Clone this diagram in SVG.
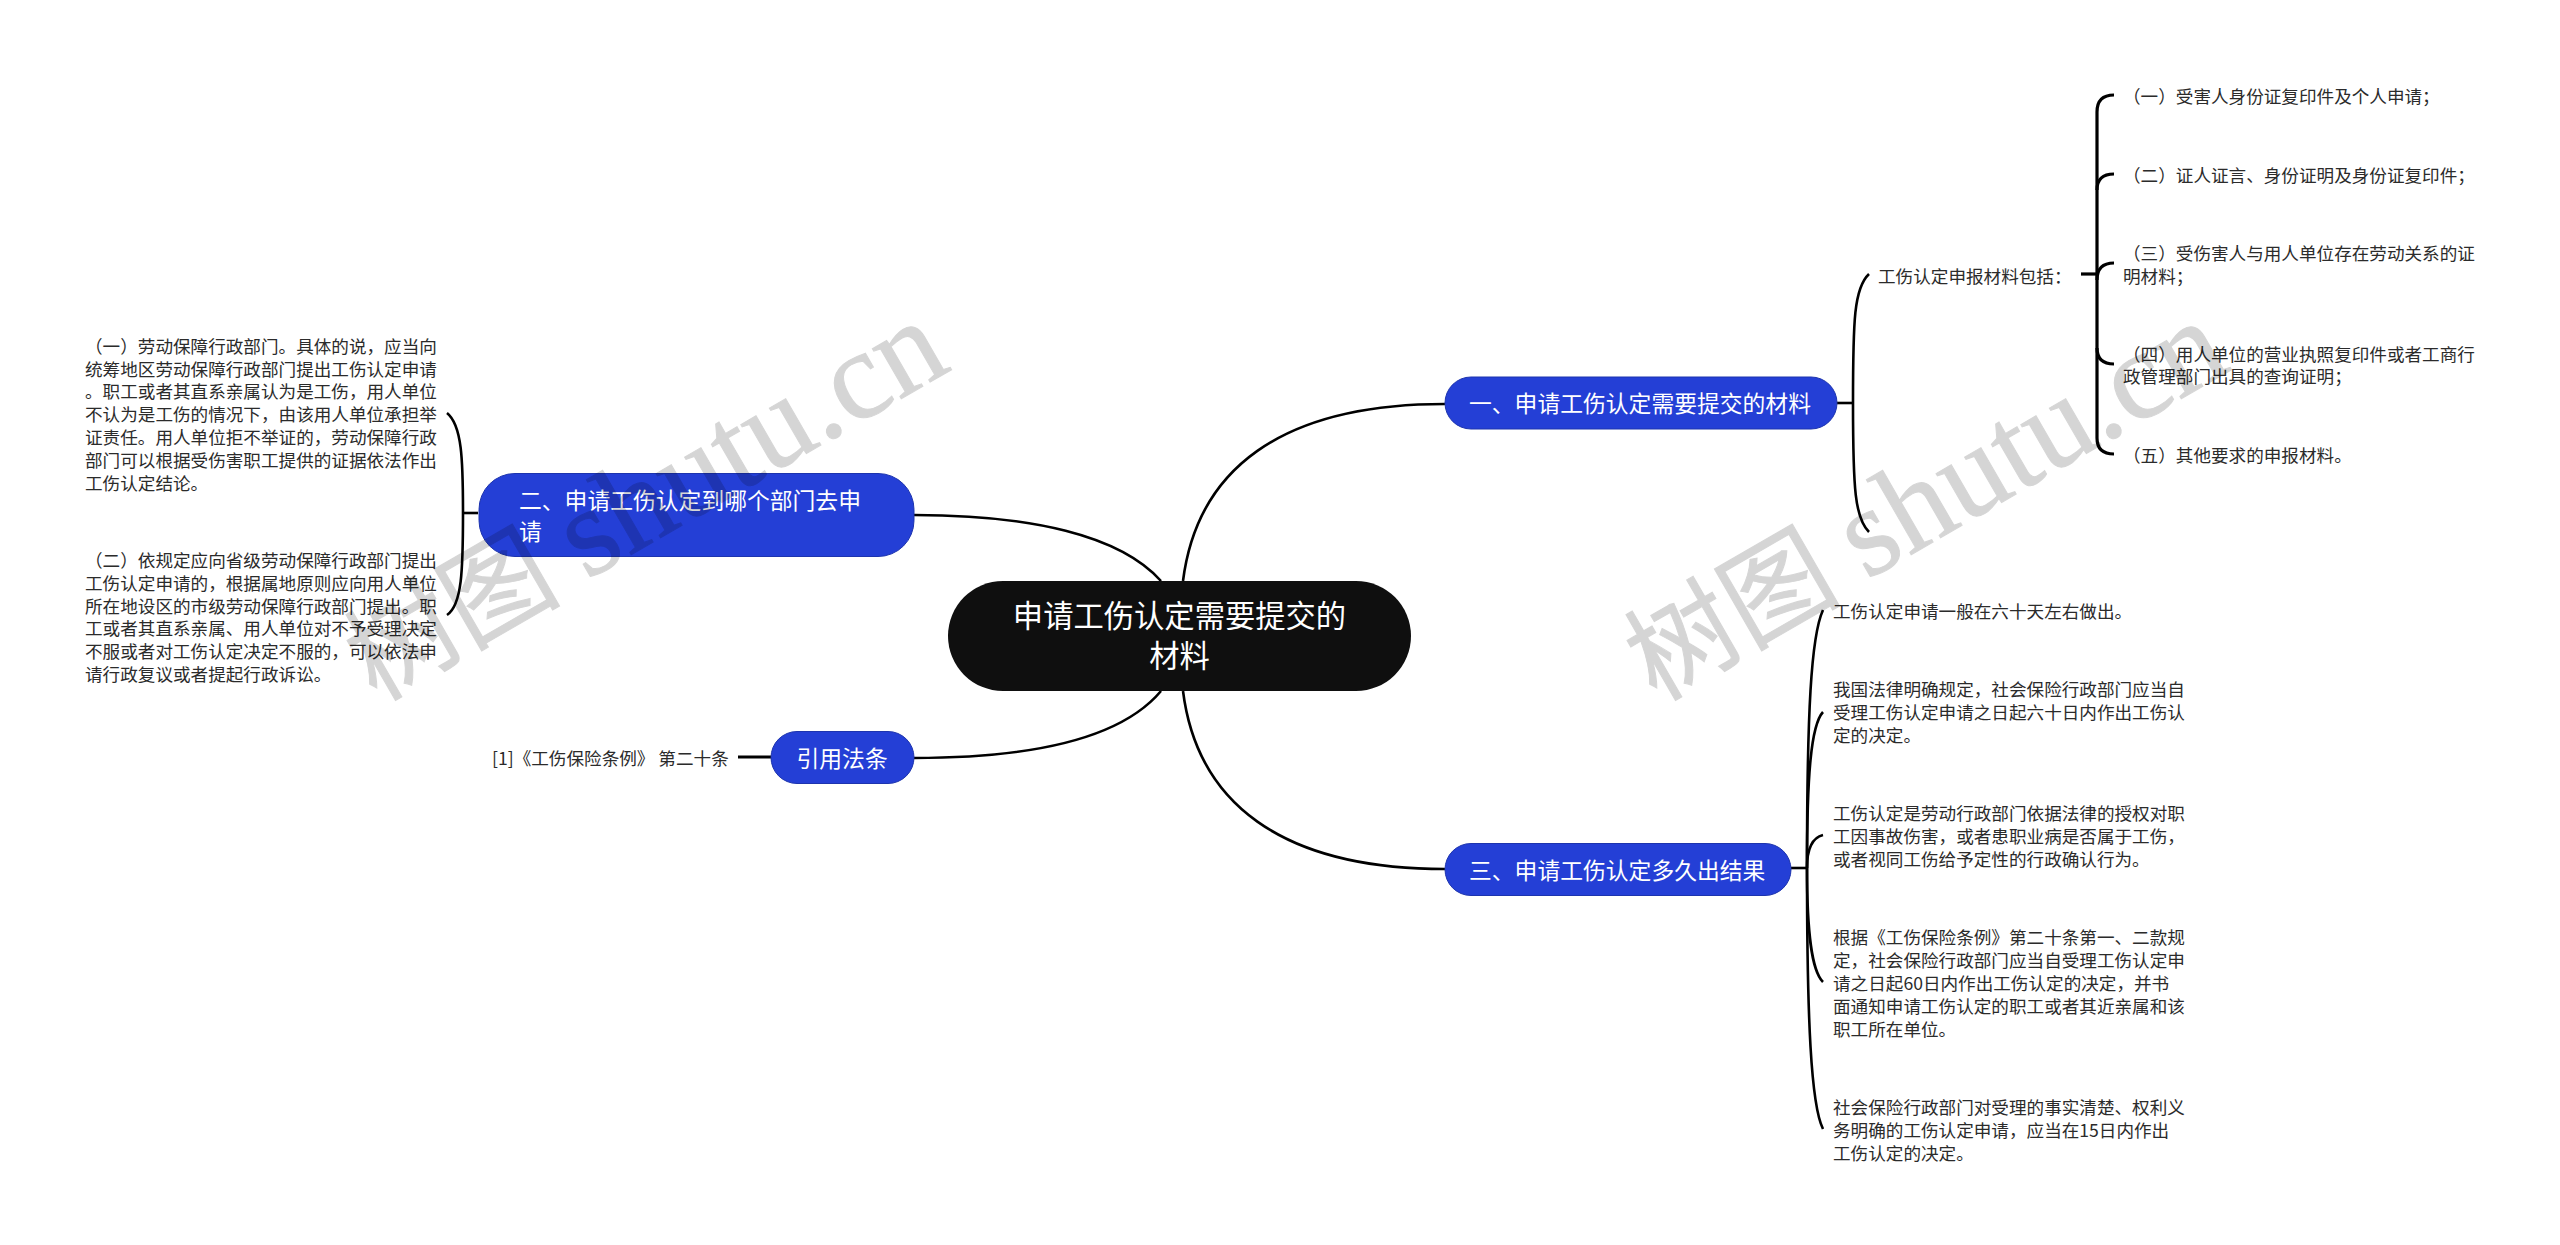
<svg xmlns="http://www.w3.org/2000/svg" width="2560" height="1245" viewBox="0 0 2560 1245">
<style>
text{font-family:"Noto Sans CJK SC","Noto Sans",sans-serif}
.t{font-size:17.6px;fill:#2b2b2b}
.b{font-size:22.8px;fill:#fff}
.r{font-size:30.3px;fill:#fff;text-anchor:middle}
.pill{fill:#243fd6;stroke:#1d34ae;stroke-width:1}
.c{fill:none;stroke:#000;stroke-width:2.6}
.c3{fill:none;stroke:#000;stroke-width:3.2}
.wm{font-family:"Liberation Serif","Noto Sans CJK SC",serif;font-size:108px;fill:#000;stroke:#000;stroke-width:1;opacity:.16}
.wl{font-size:126px}
</style>
<rect width="2560" height="1245" fill="#fff"/>
<g id="connectors">
<path class="c" d="M1183 581C1197 470 1280 404 1445 404"/>
<path class="c" d="M1183 691C1197 802 1280 869 1445 869"/>
<path class="c" d="M914 515C1030 515 1120 535 1161 581"/>
<path class="c" d="M914 758C1030 758 1120 740 1161 691"/>
<path class="c" d="M1837 403H1853"/>
<path class="c" d="M1853 403C1853 320 1854 288 1869 274"/>
<path class="c" d="M1853 403C1853 490 1855 518 1869 532"/>
<path class="c3" d="M2081 274H2097"/>
<path class="c3" d="M2114 95Q2097 95 2097 112V438Q2097 454 2114 454"/>
<path class="c3" d="M2114 174Q2097 174 2097 190"/>
<path class="c3" d="M2114 263Q2097 263 2097 280"/>
<path class="c3" d="M2114 364Q2097 364 2097 348"/>
<path class="c" d="M1791 868H1807"/>
<path class="c" d="M1807 868C1807 713 1811 636 1823 610"/>
<path class="c" d="M1807 868C1807 775 1811 725 1823 712"/>
<path class="c" d="M1807 868C1807 850 1811 838 1823 835"/>
<path class="c" d="M1807 868C1807 930 1811 970 1823 982"/>
<path class="c" d="M1807 868C1807 1020 1811 1105 1823 1129"/>
<path class="c" d="M478 513H463"/>
<path class="c" d="M463 513C463 460 462 425 447 413"/>
<path class="c" d="M463 513C463 570 462 605 447 615"/>
<path class="c3" d="M738 757H771"/>
</g>
<g id="root"><rect x="948" y="581" width="463" height="110" rx="55" fill="#0f0f0f"/>
<text class="r" x="1179.500" y="627">申请工伤认定需要提交的</text><text class="r" x="1179.500" y="667">材料</text></g>
<g id="b1"><rect class="pill" x="1445" y="377" width="392" height="52" rx="26"/><text class="b" x="1469" y="412">一、申请工伤认定需要提交的材料</text></g>
<g id="b2"><rect class="pill" x="479" y="473.500" width="435" height="83" rx="36"/><text class="b" x="519" y="508.500">二、申请工伤认定到哪个部门去申</text><text class="b" x="519" y="539.500">请</text></g>
<g id="b3"><rect class="pill" x="1445" y="843.500" width="346" height="52" rx="26"/><text class="b" x="1469" y="878.500">三、申请工伤认定多久出结果</text></g>
<g id="b4"><rect class="pill" x="771" y="731.500" width="143" height="52" rx="26"/><text class="b" x="796.500" y="766.500">引用法条</text></g>
<g id="n-list"><text class="t" x="1878" y="283">工伤认定申报材料包括：</text></g>
<g id="n-1"><text class="t" x="2123" y="103">（一）受害人身份证复印件及个人申请；</text></g>
<g id="n-2"><text class="t" x="2123" y="182">（二）证人证言、身份证明及身份证复印件；</text></g>
<g id="n-3"><text class="t" x="2123" y="260">（三）受伤害人与用人单位存在劳动关系的证</text><text class="t" x="2123" y="283">明材料；</text></g>
<g id="n-4"><text class="t" x="2123" y="361">（四）用人单位的营业执照复印件或者工商行</text><text class="t" x="2123" y="383">政管理部门出具的查询证明；</text></g>
<g id="n-5"><text class="t" x="2123" y="462">（五）其他要求的申报材料。</text></g>
<g id="n-6"><text class="t" x="1833" y="618">工伤认定申请一般在六十天左右做出。</text></g>
<g id="n-7"><text class="t" x="1833" y="696">我国法律明确规定，社会保险行政部门应当自</text><text class="t" x="1833" y="719">受理工伤认定申请之日起六十日内作出工伤认</text><text class="t" x="1833" y="742">定的决定。</text></g>
<g id="n-8"><text class="t" x="1833" y="820">工伤认定是劳动行政部门依据法律的授权对职</text><text class="t" x="1833" y="843">工因事故伤害，或者患职业病是否属于工伤，</text><text class="t" x="1833" y="866">或者视同工伤给予定性的行政确认行为。</text></g>
<g id="n-9"><text class="t" x="1833" y="944">根据《工伤保险条例》第二十条第一、二款规</text><text class="t" x="1833" y="967">定，社会保险行政部门应当自受理工伤认定申</text><text class="t" x="1833" y="990">请之日起60日内作出工伤认定的决定，并书</text><text class="t" x="1833" y="1013">面通知申请工伤认定的职工或者其近亲属和该</text><text class="t" x="1833" y="1036">职工所在单位。</text></g>
<g id="n-10"><text class="t" x="1833" y="1114">社会保险行政部门对受理的事实清楚、权利义</text><text class="t" x="1833" y="1137">务明确的工伤认定申请，应当在15日内作出</text><text class="t" x="1833" y="1160">工伤认定的决定。</text></g>
<g id="n-11"><text class="t" x="85" y="353">（一）劳动保障行政部门。具体的说，应当向</text><text class="t" x="85" y="376">统筹地区劳动保障行政部门提出工伤认定申请</text><text class="t" x="85" y="398">。职工或者其直系亲属认为是工伤，用人单位</text><text class="t" x="85" y="421">不认为是工伤的情况下，由该用人单位承担举</text><text class="t" x="85" y="444">证责任。用人单位拒不举证的，劳动保障行政</text><text class="t" x="85" y="467">部门可以根据受伤害职工提供的证据依法作出</text><text class="t" x="85" y="490">工伤认定结论。</text></g>
<g id="n-12"><text class="t" x="85" y="567">（二）依规定应向省级劳动保障行政部门提出</text><text class="t" x="85" y="590">工伤认定申请的，根据属地原则应向用人单位</text><text class="t" x="85" y="613">所在地设区的市级劳动保障行政部门提出。职</text><text class="t" x="85" y="635">工或者其直系亲属、用人单位对不予受理决定</text><text class="t" x="85" y="658">不服或者对工伤认定决定不服的，可以依法申</text><text class="t" x="85" y="681">请行政复议或者提起行政诉讼。</text></g>
<g id="n-13"><text class="t" x="492" y="765">[1]《工伤保险条例》 第二十条</text></g>
<g id="watermark"><text class="wm" transform="translate(376 702) rotate(-30)">树图 <tspan class="wl">shutu.cn</tspan></text><text class="wm" transform="translate(1656 702) rotate(-30)">树图 <tspan class="wl">shutu.cn</tspan></text></g>
</svg>
